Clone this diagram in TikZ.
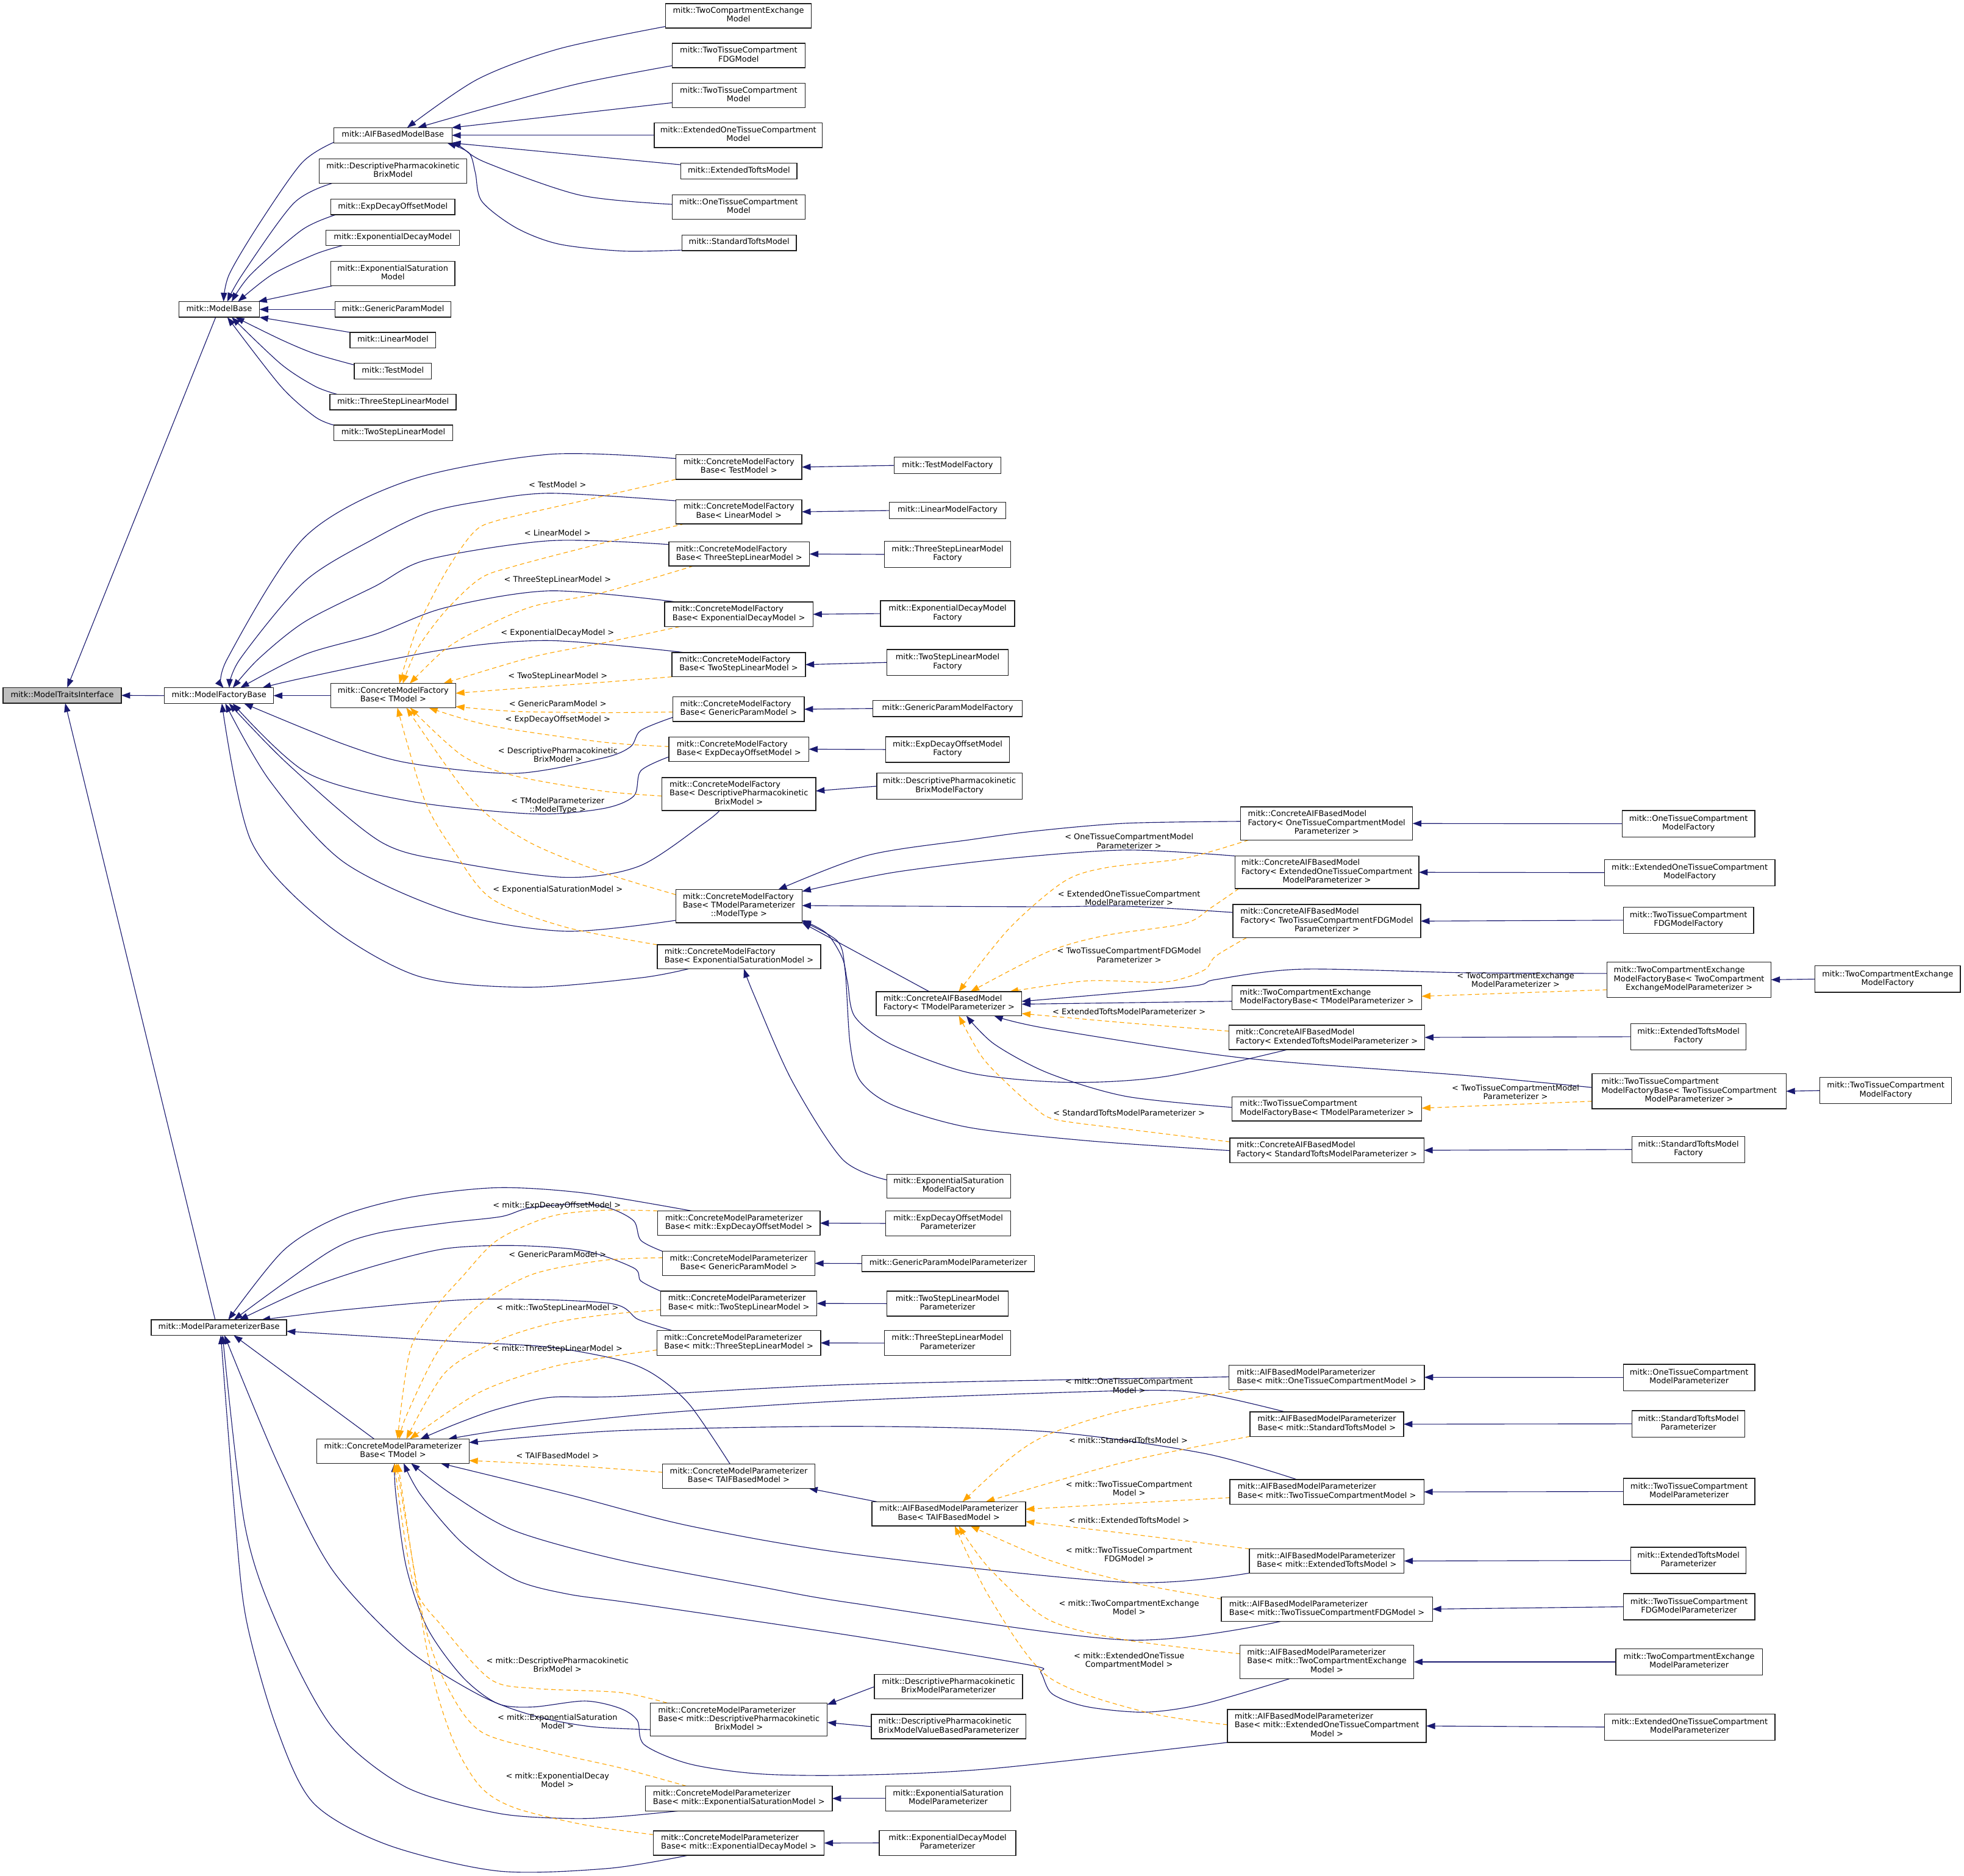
\documentclass[tikz,border=0pt]{standalone}
\usepackage{fontspec}
\setmainfont{DejaVu Sans}
\usetikzlibrary{arrows.meta}
\definecolor{navy}{RGB}{25,25,112}
\definecolor{dorange}{RGB}{255,165,0}
\definecolor{bord}{RGB}{30,30,30}
\definecolor{rootfill}{RGB}{191,191,191}
\pgfdeclarelayer{bg}
\pgfsetlayers{bg,main}
\newcommand\nA[1]{\begin{tabular}{@{}c@{}}#1\end{tabular}}
\newcommand\nB[2]{\begin{tabular}{@{}l@{}}#1\\\multicolumn{1}{@{}c@{}}{#2}\end{tabular}}
\newcommand\nC[3]{\begin{tabular}{@{}l@{}}#1\\#2\\\multicolumn{1}{@{}c@{}}{#3}\end{tabular}}
\newcommand\lB[2]{\begin{tabular}{@{}c@{}}#1\\#2\end{tabular}}
\newcommand\bx[7][]{\node[box,#1,minimum width={(#5)-(#3)},minimum height={(#6)-(#4)}] (#2) at ({((#3)+(#5))/2},{((#4)+(#6))/2}) {#7};}
\tikzset{
  every node/.style={font=\fontsize{6.3}{6.95}\selectfont},
  box/.style={draw=bord, line width=0.65pt, fill=white, inner sep=0pt, outer sep=0pt},
  inh/.style={draw=navy, line width=0.55pt, -{Triangle[length=7pt,width=5pt]}},
  tpl/.style={draw=dorange, line width=0.55pt, dash pattern=on 3.5pt off 2.5pt, -{Triangle[length=7pt,width=5pt]}},
  lbl/.style={inner sep=0pt},
}
\begin{document}
\begin{tikzpicture}[x=1pt,y=-1pt]
\begin{pgfonlayer}{bg}
\fill[white] (0,0) rectangle (1568,1497);
\end{pgfonlayer}
\useasboundingbox (0,0) rectangle (1568,1497);
% ---------------- nodes ----------------
\bx[fill=rootfill]{mti}{2.4}{548.8}{96.9}{561.3}{\nA{mitk::ModelTraitsInterface}}
\bx{mb}{142.9}{240.7}{207.1}{253.2}{\nA{mitk::ModelBase}}
\bx{mfb}{131.3}{549}{218.4}{561.5}{\nA{mitk::ModelFactoryBase}}
\bx{mpb}{120.8}{1053.5}{228.8}{1065.8}{\nA{mitk::ModelParameterizerBase}}
% ModelBase children
\bx{aifmb}{266.5}{101.9}{360.8}{114.1}{\nA{mitk::AIFBasedModelBase}}
\bx{dpkm}{254.9}{126.9}{372.7}{146.4}{\nB{mitk::DescriptivePharmacokinetic}{BrixModel}}
\bx{edom}{264.1}{159}{363.1}{171.4}{\nA{mitk::ExpDecayOffsetModel}}
\bx{exdm}{260.3}{183.7}{366.9}{196}{\nA{mitk::ExponentialDecayModel}}
\bx{exsm}{264.1}{208.6}{363.1}{228.2}{\nB{mitk::ExponentialSaturation}{Model}}
\bx{gpm}{267.5}{240.7}{360.1}{253.2}{\nA{mitk::GenericParamModel}}
\bx{lm}{279.5}{265.3}{347.8}{277.8}{\nA{mitk::LinearModel}}
\bx{tm}{282.9}{290}{344.4}{302.5}{\nA{mitk::TestModel}}
\bx{tslmA}{263.4}{314.8}{364.2}{327.2}{\nA{mitk::ThreeStepLinearModel}}
\bx{tslmB}{266.5}{339.3}{361.4}{351.8}{\nA{mitk::TwoStepLinearModel}}
% AIF children
\bx{tcem}{531.5}{2.9}{647.6}{22.4}{\nB{mitk::TwoCompartmentExchange}{Model}}
\bx{ttfdg}{536.6}{34.6}{642.8}{54}{\nB{mitk::TwoTissueCompartment}{FDGModel}}
\bx{ttcm}{536.6}{66.5}{642.8}{86}{\nB{mitk::TwoTissueCompartment}{Model}}
\bx{eotcm}{522.3}{98.2}{656.5}{117.8}{\nB{mitk::ExtendedOneTissueCompartment}{Model}}
\bx{etm}{543.5}{130.3}{636.3}{142.8}{\nA{mitk::ExtendedToftsModel}}
\bx{otcm}{536.6}{155.5}{642.8}{175}{\nB{mitk::OneTissueCompartment}{Model}}
\bx{stm}{544.5}{187.5}{635.7}{200}{\nA{mitk::StandardToftsModel}}
% factory section
\bx{cmft}{264.1}{545.6}{363.8}{564.9}{\nB{mitk::ConcreteModelFactory}{Base< TModel >}}
\bx{cmfA}{539.6}{363}{640.2}{382.6}{\nB{mitk::ConcreteModelFactory}{Base< TestModel >}}
\bx{cmfB}{539.6}{398.9}{640.2}{418.1}{\nB{mitk::ConcreteModelFactory}{Base< LinearModel >}}
\bx{cmfC}{534}{432.6}{646.3}{451.8}{\nB{mitk::ConcreteModelFactory}{Base< ThreeStepLinearModel >}}
\bx{cmfD}{530.6}{480.4}{649.1}{500.2}{\nB{mitk::ConcreteModelFactory}{Base< ExponentialDecayModel >}}
\bx{cmfE}{536.5}{520.8}{643}{540.2}{\nB{mitk::ConcreteModelFactory}{Base< TwoStepLinearModel >}}
\bx{cmfF}{537.3}{556.3}{642.1}{575.9}{\nB{mitk::ConcreteModelFactory}{Base< GenericParamModel >}}
\bx{cmfG}{534}{588.2}{645.7}{607.8}{\nB{mitk::ConcreteModelFactory}{Base< ExpDecayOffsetModel >}}
\bx{cmfH}{528.4}{620.7}{651.3}{647}{\nC{mitk::ConcreteModelFactory}{Base< DescriptivePharmacokinetic}{BrixModel >}}
\bx{cmftmp}{539.5}{710.1}{640.4}{736.5}{\nC{mitk::ConcreteModelFactory}{Base< TModelParameterizer}{::ModelType >}}
\bx{cmfI}{524.7}{754.1}{655.3}{773.3}{\nB{mitk::ConcreteModelFactory}{Base< ExponentialSaturationModel >}}
\bx{tmf}{714}{365}{799}{378}{\nA{mitk::TestModelFactory}}
\bx{lmf}{710}{401}{803}{414}{\nA{mitk::LinearModelFactory}}
\bx{tslmfA}{706}{432}{807}{453}{\nB{mitk::ThreeStepLinearModel}{Factory}}
\bx{edmf}{703}{479.5}{810}{500}{\nB{mitk::ExponentialDecayModel}{Factory}}
\bx{tslmfB}{708}{518.5}{805}{539}{\nB{mitk::TwoStepLinearModel}{Factory}}
\bx{gpmf}{697}{559}{816}{572}{\nA{mitk::GenericParamModelFactory}}
\bx{edomf}{707}{588}{806}{608.5}{\nB{mitk::ExpDecayOffsetModel}{Factory}}
\bx{dpkmf}{700}{617}{816}{638}{\nB{mitk::DescriptivePharmacokinetic}{BrixModelFactory}}
\bx{esmf}{708}{937.4}{806.8}{956.2}{\nB{mitk::ExponentialSaturation}{ModelFactory}}
% AIF factory
\bx{caift}{699.6}{791.6}{815.7}{810.8}{\nB{mitk::ConcreteAIFBasedModel}{Factory< TModelParameterizer >}}
\bx{caifA}{990.5}{644.1}{1127.8}{670.5}{\nC{mitk::ConcreteAIFBasedModel}{Factory< OneTissueCompartmentModel}{Parameterizer >}}
\bx{caifB}{985.9}{683.2}{1132.8}{709.3}{\nC{mitk::ConcreteAIFBasedModel}{Factory< ExtendedOneTissueCompartment}{ModelParameterizer >}}
\bx{caifC}{984.3}{722}{1134.3}{748.4}{\nC{mitk::ConcreteAIFBasedModel}{Factory< TwoTissueCompartmentFDGModel}{Parameterizer >}}
\bx{tcemfbt}{983.7}{786.6}{1135}{805.8}{\nB{mitk::TwoCompartmentExchange}{ModelFactoryBase< TModelParameterizer >}}
\bx{caifD}{981.2}{818.3}{1137.4}{837.8}{\nB{mitk::ConcreteAIFBasedModel}{Factory< ExtendedToftsModelParameterizer >}}
\bx{ttcmfbt}{983.7}{875.5}{1135}{894.7}{\nB{mitk::TwoTissueCompartment}{ModelFactoryBase< TModelParameterizer >}}
\bx{caifE}{981.9}{908.3}{1136.8}{928}{\nB{mitk::ConcreteAIFBasedModel}{Factory< StandardToftsModelParameterizer >}}
\bx{tcemfb}{1283}{768}{1414}{796}{\nC{mitk::TwoCompartmentExchange}{ModelFactoryBase< TwoCompartment}{ExchangeModelParameterizer >}}
\bx{ttcmfb}{1271}{857}{1426}{885}{\nC{mitk::TwoTissueCompartment}{ModelFactoryBase< TwoTissueCompartment}{ModelParameterizer >}}
\bx{otcmf}{1295}{647}{1401}{668}{\nB{mitk::OneTissueCompartment}{ModelFactory}}
\bx{eotcmf}{1281}{686}{1417}{707}{\nB{mitk::ExtendedOneTissueCompartment}{ModelFactory}}
\bx{ttfdgmf}{1296}{724}{1400}{745}{\nB{mitk::TwoTissueCompartment}{FDGModelFactory}}
\bx{tcemf}{1449}{771}{1565}{792}{\nB{mitk::TwoCompartmentExchange}{ModelFactory}}
\bx{etmf}{1302}{817}{1394}{838}{\nB{mitk::ExtendedToftsModel}{Factory}}
\bx{ttcmf}{1453}{860}{1558}{881}{\nB{mitk::TwoTissueCompartment}{ModelFactory}}
\bx{stmf}{1303}{907}{1393}{928}{\nB{mitk::StandardToftsModel}{Factory}}
% parameterizer section
\bx{cmpt}{253}{1148.6}{374.5}{1168}{\nB{mitk::ConcreteModelParameterizer}{Base< TModel >}}
\bx{cmpA}{525}{966.5}{654.7}{986.1}{\nB{mitk::ConcreteModelParameterizer}{Base< mitk::ExpDecayOffsetModel >}}
\bx{cmpB}{529}{998.8}{650.5}{1018}{\nB{mitk::ConcreteModelParameterizer}{Base< GenericParamModel >}}
\bx{cmpC}{527.5}{1030.6}{652.2}{1050.2}{\nB{mitk::ConcreteModelParameterizer}{Base< mitk::TwoStepLinearModel >}}
\bx{cmpD}{524.5}{1062}{655.2}{1081.8}{\nB{mitk::ConcreteModelParameterizer}{Base< mitk::ThreeStepLinearModel >}}
\bx{cmpE}{529}{1168.7}{650.5}{1188}{\nB{mitk::ConcreteModelParameterizer}{Base< TAIFBasedModel >}}
\bx{cmpF}{519.2}{1359.3}{660.5}{1385.8}{\nC{mitk::ConcreteModelParameterizer}{Base< mitk::DescriptivePharmacokinetic}{BrixModel >}}
\bx{cmpG}{515.3}{1425.6}{664.5}{1445.4}{\nB{mitk::ConcreteModelParameterizer}{Base< mitk::ExponentialSaturationModel >}}
\bx{cmpH}{521.7}{1461.3}{658}{1480.9}{\nB{mitk::ConcreteModelParameterizer}{Base< mitk::ExponentialDecayModel >}}
\bx{edomp}{707}{966.5}{807}{986.5}{\nB{mitk::ExpDecayOffsetModel}{Parameterizer}}
\bx{gpmp}{688}{1002}{826}{1015}{\nA{mitk::GenericParamModelParameterizer}}
\bx{tslmpB}{708}{1030.5}{805}{1050.5}{\nB{mitk::TwoStepLinearModel}{Parameterizer}}
\bx{tslmpA}{706}{1062}{807}{1082}{\nB{mitk::ThreeStepLinearModel}{Parameterizer}}
\bx{dpkmp}{698}{1336.6}{816.4}{1356}{\nB{mitk::DescriptivePharmacokinetic}{BrixModelParameterizer}}
\bx{dpkmvp}{695.6}{1368.4}{819.2}{1387.9}{\nB{mitk::DescriptivePharmacokinetic}{BrixModelValueBasedParameterizer}}
\bx{esmp}{707}{1425.5}{807}{1445.5}{\nB{mitk::ExponentialSaturation}{ModelParameterizer}}
\bx{edmp}{702}{1461}{811}{1481}{\nB{mitk::ExponentialDecayModel}{Parameterizer}}
% AIF parameterizer
\bx{aifpt}{696.2}{1198.7}{818.8}{1218}{\nB{mitk::AIFBasedModelParameterizer}{Base< TAIFBasedModel >}}
\bx{aifpA}{981.2}{1089.6}{1137.1}{1109.1}{\nB{mitk::AIFBasedModelParameterizer}{Base< mitk::OneTissueCompartmentModel >}}
\bx{aifpB}{998}{1127}{1120.6}{1146.5}{\nB{mitk::AIFBasedModelParameterizer}{Base< mitk::StandardToftsModel >}}
\bx{aifpC}{981.9}{1181}{1136.8}{1200.6}{\nB{mitk::AIFBasedModelParameterizer}{Base< mitk::TwoTissueCompartmentModel >}}
\bx{aifpD}{997.4}{1236.3}{1121}{1255.6}{\nB{mitk::AIFBasedModelParameterizer}{Base< mitk::ExtendedToftsModel >}}
\bx{aifpE}{975}{1274.7}{1143.6}{1294}{\nB{mitk::AIFBasedModelParameterizer}{Base< mitk::TwoTissueCompartmentFDGModel >}}
\bx{aifpF}{990}{1313}{1128.7}{1340}{\nC{mitk::AIFBasedModelParameterizer}{Base< mitk::TwoCompartmentExchange}{Model >}}
\bx{aifpG}{980}{1364.5}{1138.7}{1390.8}{\nC{mitk::AIFBasedModelParameterizer}{Base< mitk::ExtendedOneTissueCompartment}{Model >}}
\bx{otcmp}{1296}{1089}{1401}{1110}{\nB{mitk::OneTissueCompartment}{ModelParameterizer}}
\bx{stmp}{1303}{1126}{1393}{1147}{\nB{mitk::StandardToftsModel}{Parameterizer}}
\bx{ttcmp}{1296}{1180}{1401}{1201}{\nB{mitk::TwoTissueCompartment}{ModelParameterizer}}
\bx{etmp}{1302}{1235}{1394}{1256}{\nB{mitk::ExtendedToftsModel}{Parameterizer}}
\bx{ttfdgmp}{1296}{1272}{1401}{1293}{\nB{mitk::TwoTissueCompartment}{FDGModelParameterizer}}
\bx{tcemp}{1290}{1316}{1407}{1337}{\nB{mitk::TwoCompartmentExchange}{ModelParameterizer}}
\bx{eotcmp}{1281}{1368}{1417}{1389}{\nB{mitk::ExtendedOneTissueCompartment}{ModelParameterizer}}
% ---------------- labels ----------------
\node[lbl] (lfA) at (445.1,386.8) {< TestModel >};
\node[lbl] (lfB) at (445.1,425.2) {< LinearModel >};
\node[lbl] (lfC) at (445.1,462.7) {< ThreeStepLinearModel >};
\node[lbl] (lfD) at (445.1,505.5) {< ExponentialDecayModel >};
\node[lbl] (lfE) at (445.3,539.6) {< TwoStepLinearModel >};
\node[lbl] (lfF) at (445.3,561.5) {< GenericParamModel >};
\node[lbl] (lfG) at (445.3,574.5) {< ExpDecayOffsetModel >};
\node[lbl] (lfH) at (445.3,603.3) {\lB{< DescriptivePharmacokinetic}{BrixModel >}};
\node[lbl] (lfT) at (445.3,643.5) {\lB{< TModelParameterizer}{::ModelType >}};
\node[lbl] (lfI) at (445.3,710) {< ExponentialSaturationModel >};
\node[lbl] (laA) at (901.4,672.4) {\lB{< OneTissueCompartmentModel}{Parameterizer >}};
\node[lbl] (laB) at (901.4,717.7) {\lB{< ExtendedOneTissueCompartment}{ModelParameterizer >}};
\node[lbl] (laC) at (901.4,763.3) {\lB{< TwoTissueCompartmentFDGModel}{Parameterizer >}};
\node[lbl] (laD) at (901.4,807.5) {< ExtendedToftsModelParameterizer >};
\node[lbl] (laE) at (901.4,888.1) {< StandardToftsModelParameterizer >};
\node[lbl] (laF) at (1210,783) {\lB{< TwoCompartmentExchange}{ModelParameterizer >}};
\node[lbl] (laG) at (1210,872.5) {\lB{< TwoTissueCompartmentModel}{Parameterizer >}};
\node[lbl] (lpA) at (444.6,962.2) {< mitk::ExpDecayOffsetModel >};
\node[lbl] (lpB) at (445.1,1001) {< GenericParamModel >};
\node[lbl] (lpC) at (445.1,1044) {< mitk::TwoStepLinearModel >};
\node[lbl] (lpD) at (445.1,1077) {< mitk::ThreeStepLinearModel >};
\node[lbl] (lpE) at (445.1,1161.9) {< TAIFBasedModel >};
\node[lbl] (lpF) at (445.1,1329.6) {\lB{< mitk::DescriptivePharmacokinetic}{BrixModel >}};
\node[lbl] (lpG) at (445.1,1375.2) {\lB{< mitk::ExponentialSaturation}{Model >}};
\node[lbl] (lpH) at (445.1,1421.7) {\lB{< mitk::ExponentialDecay}{Model >}};
\node[lbl] (lqA) at (901.4,1107) {\lB{< mitk::OneTissueCompartment}{Model >}};
\node[lbl] (lqB) at (900.8,1149.8) {< mitk::StandardToftsModel >};
\node[lbl] (lqC) at (901.4,1188.9) {\lB{< mitk::TwoTissueCompartment}{Model >}};
\node[lbl] (lqD) at (901.4,1213.4) {< mitk::ExtendedToftsModel >};
\node[lbl] (lqE) at (901.4,1241.5) {\lB{< mitk::TwoTissueCompartment}{FDGModel >}};
\node[lbl] (lqF) at (901.4,1284) {\lB{< mitk::TwoCompartmentExchange}{Model >}};
\node[lbl] (lqG) at (901.4,1325.8) {\lB{< mitk::ExtendedOneTissue}{CompartmentModel >}};
% ---------------- edges ----------------
\begin{pgfonlayer}{bg}
\draw[inh] ([xshift=-2.8pt]mb.south) -- ([xshift=4pt]mti.north);
\draw[inh] (mfb.west) -- (mti.east);
\draw[inh] ([xshift=-3pt]mpb.north) -- ([xshift=2.4pt]mti.south);
% ModelBase children
\draw[inh] plot[smooth] coordinates {([yshift=0.5pt]aifmb.south west) (241,130) (207,178.5) (183,219) ([xshift=3.5pt]mb.north)};
\draw[inh] plot[smooth] coordinates {([xshift=10pt]dpkm.south west) (234.4,162.3) (193.4,219.1) ([xshift=6.5pt]mb.north)};
\draw[inh] plot[smooth] coordinates {([xshift=4pt]edom.south west) (241.2,183.4) (200.2,219.1) ([xshift=10pt]mb.north)};
\draw[inh] plot[smooth] coordinates {([xshift=13pt]exdm.south west) (251.5,202.9) (217.3,219.1) ([xshift=15pt]mb.north)};
\draw[inh] ([xshift=1pt]exsm.south west) -- ([xshift=-1pt]mb.north east);
\draw[inh] (gpm.west) -- (mb.east);
\draw[inh] (lm.north west) -- (mb.south east);
\draw[inh] plot[smooth] coordinates {([yshift=-1.3pt]tm.north west) (251.5,282.4) (224.2,271) ([xshift=13pt]mb.south)};
\draw[inh] plot[smooth] coordinates {([xshift=6pt]tslmA.north west) (251.5,308.3) (224.2,290.5) ([xshift=10pt]mb.south)};
\draw[inh] plot[smooth] coordinates {(tslmB.north west) (251.5,332.7) (224.2,308.3) ([xshift=6.5pt]mb.south)};
% AIF children
\draw[inh] plot[smooth] coordinates {([yshift=1.3pt]tcem.south west) (446.1,39) (381.2,63.3) ([xshift=11.4pt]aifmb.north)};
\draw[inh] plot[smooth] coordinates {([yshift=1.6pt]ttfdg.south west) (463.2,66.5) (394.9,84.4) ([xshift=19.8pt]aifmb.north)};
\draw[inh] ([yshift=4pt]ttcm.south west) -- (aifmb.north east);
\draw[inh] (eotcm.west) -- (aifmb.east);
\draw[inh] ([yshift=-1.2pt]etm.north west) -- (aifmb.south east);
\draw[inh] plot[smooth] coordinates {([yshift=-7.6pt]otcm.north west) (463.2,155.8) (388.1,129.8) (367.6,117) ([xshift=-1pt]aifmb.south east)};
\draw[inh] plot[smooth] coordinates {([yshift=0.4pt]stm.south west) (497.4,200.4) (446.1,194.8) (412,181.8) (384.7,160.7) (379.5,138) (374.4,122) ([xshift=-3.8pt]aifmb.south east)};
% factory -> ModelFactoryBase
\draw[inh] plot[smooth] coordinates {([yshift=6.8pt]cmfA.west) (439,362.6) (327.2,383.2) (243.4,428.6) (181.5,525.8) ([xshift=3.65pt]mfb.north)};
\draw[inh] plot[smooth] coordinates {([yshift=8.8pt]cmfB.west) (439,393.7) (383.1,400.3) (341.2,409.4) (299.3,429.6) (243.4,463.9) (191.8,525.8) ([xshift=8.2pt]mfb.north)};
\draw[inh] plot[smooth] coordinates {([yshift=7.6pt]cmfC.west) (439,431.6) (341.2,446.7) (299.3,468) (243.4,496.2) (206.5,525.8) ([xshift=11pt]mfb.north)};
\draw[inh] plot[smooth] coordinates {([xshift=9pt]cmfD.north west) (439,471.6) (355.2,485.1) (299.3,506.3) (243.4,522.4) ([xshift=17pt]mfb.north)};
\draw[inh] plot[smooth] coordinates {([xshift=10pt]cmfE.north west) (439,511.3) (355.2,518.4) (243.4,540.9) ([xshift=-9pt]mfb.north east)};
\draw[inh] (cmft.west) -- (mfb.east);
\draw[inh] plot[smooth] coordinates {([yshift=-6.4pt]cmfF.west) (511.6,583) (503.3,596.1) (480.9,605.2) (411,617.3) (327.2,609.2) (274.4,594) ([xshift=20pt]mfb.south)};
\draw[inh] plot[smooth] coordinates {([yshift=-6.1pt]cmfG.west) (511.6,615.2) (506,635.4) (480.9,645.5) (425,649.6) (327.2,639.5) (244.9,616.7) ([xshift=11pt]mfb.south)};
\draw[inh] plot[smooth] coordinates {([xshift=-15.3pt]cmfH.south) (562,657.2) (510.4,691.3) (451.4,700.3) (362.9,688.1) (303.9,671.9) (230.2,610.2) ([xshift=8pt]mfb.south)};
\draw[inh] plot[smooth] coordinates {([yshift=-11.3pt]cmftmp.west) (451.4,743.3) (362.9,728.7) (274.4,688.1) (215.4,623.2) ([xshift=5pt]mfb.south)};
\draw[inh] plot[smooth] coordinates {([xshift=25pt]cmfI.south west) (511.2,780.5) (420,788) (333.4,779) (259.7,736.8) (200.7,671.9) ([xshift=2.3pt]mfb.south)};
% factory template instances
\draw[tpl] plot[smooth] coordinates {(cmfA.south west) (467,399.3) (397,415.5) (377.5,425.6) (355.2,457.8) (332.8,502.2) ([xshift=4.9pt]cmft.north)};
\draw[tpl] plot[smooth] coordinates {([xshift=7pt]cmfB.south west) (480.9,433.6) (411,451.8) (383.1,461.9) (355.2,488.1) (332.8,518.4) ([xshift=7.6pt]cmft.north)};
\draw[tpl] plot[smooth] coordinates {([xshift=19.5pt]cmfC.south west) (480.9,473) (425,484.1) (383.1,502.2) (355.2,518.4) ([xshift=13.2pt]cmft.north)};
\draw[tpl] plot[smooth] coordinates {([xshift=12pt]cmfD.south west) (480.9,513.3) (425,524.4) ([xshift=40pt]cmft.north)};
\draw[tpl] plot[smooth] coordinates {(cmfE.south west) (480.9,544.6) (411,549.7) ([yshift=1.9pt]cmft.east)};
\draw[tpl] plot[smooth] coordinates {([yshift=-2.2pt]cmfF.west) (480.9,568.8) (411,567.8) ([yshift=-8.7pt]cmft.east)};
\draw[tpl] plot[smooth] coordinates {([yshift=2.1pt]cmfG.west) (480.9,592.3) (392.4,579.4) ([xshift=28.4pt]cmft.south)};
\draw[tpl] plot[smooth] coordinates {([yshift=-1.5pt]cmfH.west) (480.9,631.4) (411,619.3) (369.1,603.1) ([xshift=13.5pt]cmft.south)};
\draw[tpl] plot[smooth] coordinates {([yshift=9.2pt]cmftmp.west) (480.9,696.2) (421.9,671.9) (377.7,639.4) ([xshift=10.5pt]cmft.south)};
\draw[tpl] plot[smooth] coordinates {(cmfI.north west) (451.4,740) (392.4,717.3) (362.9,680) (339.3,639.4) ([xshift=3.3pt]cmft.south)};
% factory leaves
\draw[inh] (tmf.west) -- (cmfA.east);
\draw[inh] (lmf.west) -- (cmfB.east);
\draw[inh] (tslmfA.west) -- (cmfC.east);
\draw[inh] (edmf.west) -- (cmfD.east);
\draw[inh] (tslmfB.west) -- (cmfE.east);
\draw[inh] (gpmf.west) -- (cmfF.east);
\draw[inh] (edomf.west) -- (cmfG.east);
\draw[inh] (dpkmf.west) -- ([yshift=2.5pt]cmfH.east);
\draw[inh] plot[smooth] coordinates {([yshift=5pt]esmf.west) (672.6,925.3) (632.3,862.7) (602,794.2) ([xshift=3.9pt]cmfI.south)};
% AIF factories -> ConcreteModelFactory<TModelParameterizer::ModelType>
\draw[inh] ([xshift=-15.55pt]caift.north) -- (cmftmp.south east);
\draw[inh] plot[smooth] coordinates {([yshift=1.7pt]caifA.west) (899,657.1) (827.6,663.2) (774.8,670.2) (692.8,682.7) ([xshift=31.3pt]cmftmp.north)};
\draw[inh] plot[smooth] coordinates {(caifB.north west) (899,678.5) (805.8,685.1) (713,696.4) ([yshift=-1.4pt]cmftmp.north east)};
\draw[inh] plot[smooth] coordinates {([yshift=6.9pt]caifC.west) (899,723.3) (827.6,723.8) ([yshift=0.5pt]cmftmp.east)};
\draw[inh] plot[smooth] coordinates {([xshift=-31.5pt]caifD.south) (930,859.3) (852.4,863.9) (774.8,856.5) (712.6,834.1) (682.7,811.8) (676.7,784.4) (672.6,764.9) (660,745) ([yshift=-11.3pt]cmftmp.east)};
\draw[inh] plot[smooth] coordinates {([yshift=-0.25pt]caifE.west) (867.9,910.5) (773.5,899.9) (713,882.2) (686.8,862.7) (678.7,833.3) (674.7,774.7) (668.6,751.2) ([yshift=-12.2pt]cmftmp.east)};
% into ConcreteAIFBasedModelFactory<TModelParameterizer>
\draw[inh] ([yshift=-3pt]tcemfbt.west) -- ([yshift=-0.3pt]caift.east);
\draw[inh] plot[smooth] coordinates {([yshift=5pt]tcemfb.west) (1168.5,776.4) (1038.7,773.6) (970.4,781.9) (948.6,787.5) ([yshift=1.9pt]caift.east)};
\draw[inh] plot[smooth] coordinates {([yshift=1.2pt]ttcmfbt.west) (899,875.1) (836.9,856.5) (793.7,833.3) ([xshift=13.85pt]caift.south)};
\draw[inh] plot[smooth] coordinates {([yshift=3pt]ttcmfb.west) (1168.5,858.3) (992.1,844.4) (836.9,821.1) ([xshift=36pt]caift.south)};
\draw[tpl] plot[smooth] coordinates {([xshift=6.3pt]caifA.south west) (945.5,685.1) (883.4,692.5) (849.3,703.7) (805.8,741) ([xshift=7.75pt]caift.north)};
\draw[tpl] plot[smooth] coordinates {([xshift=3.1pt]caifB.south west) (967.3,724.2) (945.5,737.2) (883.4,746.5) (836.9,759.6) ([xshift=17.15pt]caift.north)};
\draw[tpl] plot[smooth] coordinates {([xshift=11pt]caifC.south west) (970.4,763.3) (961,774.5) (930,783.8) (867.9,782.9) ([xshift=-9.7pt]caift.north east)};
\draw[tpl] plot[smooth] coordinates {([yshift=5pt]caifD.west) (899,816.4) ([yshift=-7.8pt]caift.east)};
\draw[tpl] plot[smooth] coordinates {([yshift=6.75pt]caifE.west) (899,901.2) (843,893.7) (826,884.2) (803.8,864.6) (783.6,843.1) ([xshift=7.85pt]caift.south)};
\draw[tpl] ([yshift=-8pt]tcemfb.west) -- ([yshift=1pt]tcemfbt.east);
\draw[tpl] ([yshift=-8pt]ttcmfb.west) -- ([yshift=0.6pt]ttcmfbt.east);
% right factory leaves
\draw[inh] (otcmf.west) -- (caifA.east);
\draw[inh] (eotcmf.west) -- (caifB.east);
\draw[inh] (ttfdgmf.west) -- (caifC.east);
\draw[inh] (tcemf.west) -- (tcemfb.east);
\draw[inh] (etmf.west) -- (caifD.east);
\draw[inh] (ttcmf.west) -- (ttcmfb.east);
\draw[inh] (stmf.west) -- (caifE.east);
% parameterizers -> ModelParameterizerBase
\draw[inh] ([xshift=-15pt]cmpt.north) -- ([xshift=11.8pt]mpb.south);
\draw[inh] plot[smooth] coordinates {([xshift=-37.75pt]cmpA.north) (466.9,952.3) (397,948) (327.2,955.7) (271.3,971.1) (226.4,998) ([xshift=7.4pt]mpb.north)};
\draw[inh] plot[smooth] coordinates {(cmpB.north west) (511.6,990) (506,974.5) (486.5,964.3) (461.3,960.9) (422.2,964.3) (399.9,971.1) (355.2,976.2) (299.3,984.8) (261.8,999.7) ([xshift=11.8pt]mpb.north)};
\draw[inh] plot[smooth] coordinates {(cmpC.north west) (511.6,1022.4) (506,1012.1) (466.9,998.4) (411,994.2) (355.2,996.7) (299.3,1010.4) (243.4,1029.2) ([xshift=16.2pt]mpb.north)};
\draw[inh] plot[smooth] coordinates {([xshift=12pt]cmpD.north west) (509.6,1053.2) (486,1040.2) (382.8,1037) (279.5,1045) ([xshift=33.9pt]mpb.north)};
\draw[inh] plot[smooth] coordinates {([xshift=-6.85pt]cmpE.north) (550.7,1121.4) (522.8,1097.5) (494.9,1085.6) (439,1075.3) (368,1071) ([yshift=-2.95pt]mpb.east)};
\draw[inh] plot[smooth] coordinates {([yshift=-8pt]cmpF.west) (471.3,1378.1) (427,1369.7) (382.8,1353) (323.8,1315.2) (264.8,1252.3) (222,1168.5) ([xshift=4.4pt]mpb.south)};
\draw[inh] plot[smooth] coordinates {([xshift=-47.5pt]cmpG.south) (494.9,1449.9) (456.5,1451.5) (397.5,1447.3) (323.8,1426.3) (264.8,1378.1) (220.5,1294.3) (195.4,1217) ([xshift=2.9pt]mpb.south)};
\draw[inh] plot[smooth] coordinates {([xshift=-40.55pt]cmpH.south) (486,1491.3) (397.5,1493.4) (309,1472.4) (250,1438.9) (220.5,1378.1) (196.9,1294.3) (188.1,1217) ([xshift=1.5pt]mpb.south)};
% AIF parameterizers -> ConcreteModelParameterizerBase<TModel>
\draw[inh] plot[smooth] coordinates {([yshift=0.35pt]aifpA.west) (681.5,1105) (494.9,1114.6) (439,1115.4) (397,1124.8) (363.5,1136.8) ([xshift=21.85pt]cmpt.north)};
\draw[inh] plot[smooth] coordinates {([xshift=-33pt]aifpB.north) (961,1112.4) (899,1110) (681.6,1117.8) (522.8,1128.3) (411,1140.2) ([xshift=44pt]cmpt.north)};
\draw[inh] plot[smooth] coordinates {([xshift=-23.75pt]aifpC.north) (961,1160) (836.9,1142.8) (681.6,1138.5) (494.9,1141.9) ([yshift=6.9pt]cmpt.east)};
\draw[inh] plot[smooth] coordinates {(aifpD.south west) (899,1263) (681.6,1240.6) (550.7,1218) (453,1192.8) ([xshift=38pt]cmpt.south)};
\draw[inh] plot[smooth] coordinates {([xshift=-36.1pt]aifpE.south) (899,1309) (681.6,1279.7) (606.6,1266.5) (494.9,1245.2) (411,1221.9) (360.8,1192.8) ([xshift=14.45pt]cmpt.south)};
\draw[inh] plot[smooth] coordinates {([xshift=-29.95pt]aifpF.south) (961,1360) (914.5,1366.6) (867.9,1362.3) (840,1352) (831,1335) (822,1329) (681.6,1305.8) (508.8,1280.1) (453,1272.3) (411,1260.7) (369.1,1231.6) (335.6,1192.8) ([xshift=8.55pt]cmpt.south)};
\draw[inh] plot[smooth] coordinates {(aifpG.south west) (790.3,1411.8) (681.5,1416.9) (606.6,1415.9) (550.7,1408) (514.4,1392.6) (508.8,1373.2) (494.9,1363.5) (466.9,1357.7) (425,1362.5) (397,1359.6) (369.1,1338.3) (341.2,1299.5) (324.4,1251) (316,1192.8) ([xshift=1.2pt]cmpt.south)};
% parameterizer template instances
\draw[tpl] plot[smooth] coordinates {(cmpA.north west) (480.9,966) (439,971.1) (397,989.9) (369.1,1019) (346.8,1044.6) (327.2,1078.7) ([xshift=3.65pt]cmpt.north)};
\draw[tpl] plot[smooth] coordinates {([yshift=4.5pt]cmpB.west) (480.9,1006.1) (425,1017.2) (383.1,1041.1) (349.6,1078.7) (324.4,1130) ([xshift=5.05pt]cmpt.north)};
\draw[tpl] plot[smooth] coordinates {([yshift=-5pt]cmpC.west) (480.9,1049.7) (439,1056.5) (397,1070.2) (355.2,1095.8) ([xshift=10.65pt]cmpt.north)};
\draw[tpl] plot[smooth] coordinates {([yshift=-5.6pt]cmpD.west) (480.9,1083.8) (439,1091.5) (383.1,1111.2) ([xshift=13.45pt]cmpt.north)};
\draw[tpl] plot[smooth] coordinates {([yshift=3.15pt]cmpE.west) (450,1169.5) ([yshift=-7.5pt]cmpt.east)};
\draw[tpl] plot[smooth] coordinates {([xshift=-57.25pt]cmpF.north) (494.9,1350.9) (427,1347.7) (391.6,1340.4) (353.3,1298.5) (329.7,1262.8) ([xshift=1.15pt]cmpt.south)};
\draw[tpl] plot[smooth] coordinates {([xshift=-42pt]cmpG.north) (494.9,1411) (439,1398.4) (384.5,1382.5) (358,1348) (338.5,1294.3) ([xshift=2.65pt]cmpt.south)};
\draw[tpl] plot[smooth] coordinates {([yshift=6.7pt]cmpH.west) (466.9,1456.6) (411,1443) (383.1,1425.6) (360.8,1386.8) (341.2,1318.9) ([xshift=4pt]cmpt.south)};
% parameterizer leaves
\draw[inh] (edomp.west) -- (cmpA.east);
\draw[inh] (gpmp.west) -- (cmpB.east);
\draw[inh] (tslmpB.west) -- (cmpC.east);
\draw[inh] (tslmpA.west) -- (cmpD.east);
\draw[inh] (dpkmp.west) -- ([yshift=12pt]cmpF.east);
\draw[inh] (dpkmvp.west) -- ([yshift=-2.3pt]cmpF.east);
\draw[inh] (esmp.west) -- (cmpG.east);
\draw[inh] (edmp.west) -- (cmpH.east);
\draw[inh] ([xshift=4pt]aifpt.north west) -- ([xshift=-4.8pt]cmpE.south east);
% AIF parameterizer template instances
\draw[tpl] plot[smooth] coordinates {([xshift=12.4pt]aifpA.south west) (899,1125.4) (836.9,1145) (805.8,1164.5) ([xshift=11pt]aifpt.north)};
\draw[tpl] plot[smooth] coordinates {(aifpB.south west) (899,1166.7) ([xshift=29.5pt]aifpt.north)};
\draw[tpl] plot[smooth] coordinates {([yshift=-4.6pt]aifpC.west) (899,1200) ([yshift=3.65pt]aifpt.east)};
\draw[tpl] plot[smooth] coordinates {(aifpD.north west) (899,1224) ([yshift=-6.15pt]aifpt.east)};
\draw[tpl] plot[smooth] coordinates {([yshift=8pt]aifpE.west) (899,1262.3) (836.9,1245) ([xshift=17.3pt]aifpt.south)};
\draw[tpl] plot[smooth] coordinates {([yshift=6.5pt]aifpF.west) (899,1309) (836.9,1292.7) (790,1252) ([xshift=7.9pt]aifpt.south)};
\draw[tpl] plot[smooth] coordinates {([yshift=1pt]aifpG.west) (914.5,1366.6) (836.9,1338.4) (790.3,1275.4) ([xshift=4.8pt]aifpt.south)};
% AIF parameterizer leaves
\draw[inh] (otcmp.west) -- (aifpA.east);
\draw[inh] (stmp.west) -- (aifpB.east);
\draw[inh] (ttcmp.west) -- (aifpC.east);
\draw[inh] (etmp.west) -- (aifpD.east);
\draw[inh] (ttfdgmp.west) -- (aifpE.east);
\draw[inh] (tcemp.west) -- (aifpF.east);
\draw[inh] (eotcmp.west) -- (aifpG.east);
\end{pgfonlayer}
\end{tikzpicture}
\end{document}
